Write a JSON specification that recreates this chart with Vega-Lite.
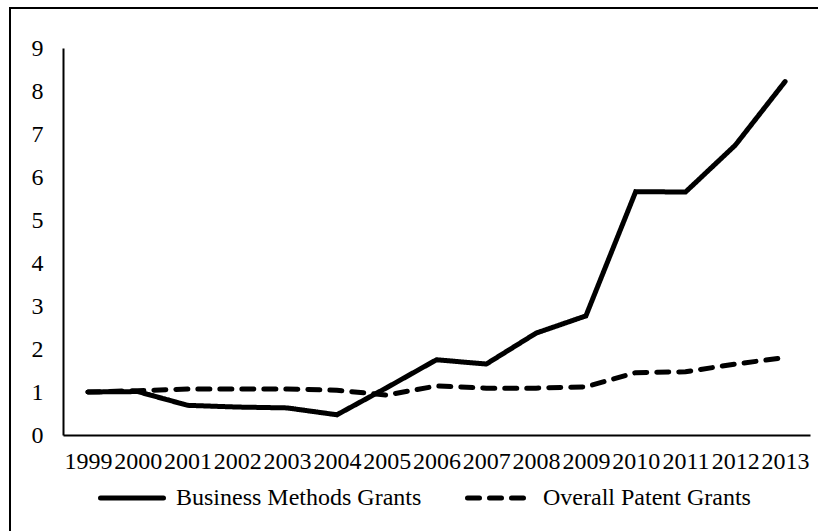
{
  "$schema": "https://vega.github.io/schema/vega-lite/v6.json",
  "width": 850,
  "height": 560,
  "autosize": {"type": "none"},
  "padding": {"left": 10, "top": 8, "right": -42, "bottom": -37},
  "background": "white",
  "data": {
    "values": [
      {"year": "1999", "series": "Business Methods Grants", "value": 1.0},
      {"year": "2000", "series": "Business Methods Grants", "value": 1.01},
      {"year": "2001", "series": "Business Methods Grants", "value": 0.69},
      {"year": "2002", "series": "Business Methods Grants", "value": 0.65},
      {"year": "2003", "series": "Business Methods Grants", "value": 0.63},
      {"year": "2004", "series": "Business Methods Grants", "value": 0.47},
      {"year": "2005", "series": "Business Methods Grants", "value": 1.1},
      {"year": "2006", "series": "Business Methods Grants", "value": 1.75},
      {"year": "2007", "series": "Business Methods Grants", "value": 1.65},
      {"year": "2008", "series": "Business Methods Grants", "value": 2.37},
      {"year": "2009", "series": "Business Methods Grants", "value": 2.77},
      {"year": "2010", "series": "Business Methods Grants", "value": 5.66},
      {"year": "2011", "series": "Business Methods Grants", "value": 5.65},
      {"year": "2012", "series": "Business Methods Grants", "value": 6.74},
      {"year": "2013", "series": "Business Methods Grants", "value": 8.22},
      {"year": "1999", "series": "Overall Patent Grants", "value": 1.0},
      {"year": "2000", "series": "Overall Patent Grants", "value": 1.03},
      {"year": "2001", "series": "Overall Patent Grants", "value": 1.07},
      {"year": "2002", "series": "Overall Patent Grants", "value": 1.07},
      {"year": "2003", "series": "Overall Patent Grants", "value": 1.07},
      {"year": "2004", "series": "Overall Patent Grants", "value": 1.04},
      {"year": "2005", "series": "Overall Patent Grants", "value": 0.93},
      {"year": "2006", "series": "Overall Patent Grants", "value": 1.14},
      {"year": "2007", "series": "Overall Patent Grants", "value": 1.09},
      {"year": "2008", "series": "Overall Patent Grants", "value": 1.09},
      {"year": "2009", "series": "Overall Patent Grants", "value": 1.12},
      {"year": "2010", "series": "Overall Patent Grants", "value": 1.45},
      {"year": "2011", "series": "Overall Patent Grants", "value": 1.47},
      {"year": "2012", "series": "Overall Patent Grants", "value": 1.65},
      {"year": "2013", "series": "Overall Patent Grants", "value": 1.8}
    ]
  },
  "mark": {"type": "line", "color": "black", "strokeWidth": 5, "strokeCap": "round"},
  "encoding": {
    "x": {
      "field": "year",
      "type": "ordinal",
      "scale": {"type": "point", "range": [53, 800], "padding": 0.5},
      "axis": {"offset": -133, "labelAngle": 0, "labelPadding": 14, "labelOverlap": false, "labelFlush": false, "labelBound": false, "title": null}
    },
    "y": {
      "field": "value",
      "type": "quantitative",
      "scale": {"domain": [0, 9], "range": [427, 40], "nice": false, "zero": true},
      "axis": {"offset": -53, "values": [0, 1, 2, 3, 4, 5, 6, 7, 8, 9], "labelPadding": 20, "title": null}
    },
    "strokeDash": {
      "field": "series",
      "type": "nominal",
      "scale": {"domain": ["Business Methods Grants", "Overall Patent Grants"], "range": [[1, 0], [12, 10]]},
      "legend": {
        "orient": "none",
        "legendX": 88,
        "legendY": 456,
        "direction": "horizontal",
        "title": null,
        "symbolType": "stroke",
        "symbolSize": 3969,
        "symbolStrokeWidth": 5,
        "symbolStrokeColor": "black",
        "labelFont": "Liberation Serif",
        "labelFontSize": 24,
        "labelColor": "black",
        "columnPadding": 35,
        "labelOffset": 10,
        "labelLimit": 400,
        "encode": {"symbols": {"update": {"strokeCap": {"value": "round"}}}}
      }
    }
  },
  "config": {
    "view": {"stroke": "black", "strokeWidth": 2},
    "axis": {
      "labelFont": "Liberation Serif",
      "labelFontSize": 24,
      "labelColor": "black",
      "domainColor": "black",
      "domainWidth": 2,
      "ticks": false,
      "grid": false
    }
  }
}
